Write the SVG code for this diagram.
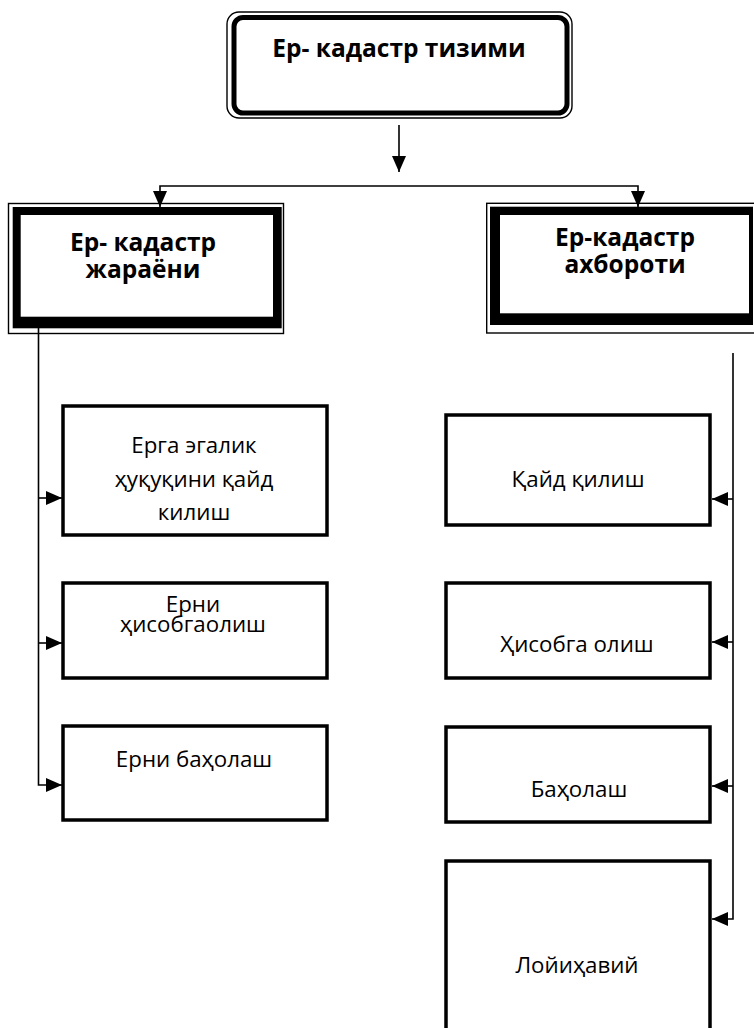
<svg xmlns="http://www.w3.org/2000/svg" width="754" height="1028" viewBox="0 0 754 1028">
<style>
.bold{font-family:"Open Sans","Noto Sans","DejaVu Sans",sans-serif;font-weight:700;font-size:24.5px;fill:#000;text-anchor:middle}
.reg{font-family:"Open Sans","Noto Sans","DejaVu Sans",sans-serif;font-weight:400;font-size:22.3px;fill:#000;text-anchor:middle}
.box{fill:#fff;stroke:#000;stroke-width:3.5}
.thin{fill:none;stroke:#000;stroke-width:1.4}
.conn{fill:none;stroke:#000;stroke-width:1.6}
</style>
<defs>
<marker id="arr" markerUnits="userSpaceOnUse" markerWidth="16" markerHeight="14" refX="16" refY="7" orient="auto">
<path d="M0,0 L16,7 L0,14 z" fill="#000"/>
</marker>
</defs>
<rect width="754" height="1028" fill="#fff"/>

<g id="connectors">
<path class="conn" d="M399,125 V172" marker-end="url(#arr)"/>
<path class="conn" d="M399,186 H160 V207" marker-end="url(#arr)"/>
<path class="conn" d="M399,186 H638 V207" marker-end="url(#arr)"/>
<path class="conn" d="M38.5,328 V785 H62" marker-end="url(#arr)"/>
<path class="conn" d="M38.5,498 H62" marker-end="url(#arr)"/>
<path class="conn" d="M38.5,643 H62" marker-end="url(#arr)"/>
<path class="conn" d="M733,353 V919 H712" marker-end="url(#arr)"/>
<path class="conn" d="M733,499 H712" marker-end="url(#arr)"/>
<path class="conn" d="M733,642 H712" marker-end="url(#arr)"/>
<path class="conn" d="M733,786 H712" marker-end="url(#arr)"/>
</g>

<g id="node-system">
<rect class="thin" x="227" y="12" width="345" height="106" rx="12"/>
<rect x="234" y="17.5" width="333" height="95.5" rx="9" fill="#fff" stroke="#000" stroke-width="5"/>
<text class="bold" x="399" y="57">Ер- кадастр тизими</text>
</g>

<g id="node-process">
<rect class="thin" x="8.5" y="203.5" width="275" height="130"/>
<rect x="12.7" y="207" width="269" height="121.3" fill="#000"/>
<rect x="20.7" y="215" width="252.3" height="101.7" fill="#fff"/>
<text class="bold" x="143" y="251"><tspan x="143">Ер- кадастр</tspan><tspan x="143" dy="27">жараёни</tspan></text>
</g>

<g id="node-info">
<rect class="thin" x="486.7" y="203.3" width="280" height="129.7"/>
<rect x="490" y="206.7" width="263" height="118.3" fill="#000"/>
<rect x="500" y="215" width="249" height="98.3" fill="#fff"/>
<text class="bold" x="625" y="246"><tspan x="625">Ер-кадастр</tspan><tspan x="625" dy="27">ахбороти</tspan></text>
</g>

<g id="node-l1">
<rect class="box" x="63" y="406" width="264" height="129"/>
<text class="reg" x="194" y="453"><tspan x="194">Ерга эгалик</tspan><tspan x="194" dy="34">ҳуқуқини қайд</tspan><tspan x="194" dy="33">килиш</tspan></text>
</g>

<g id="node-l2">
<rect class="box" x="63" y="583" width="264" height="95"/>
<text class="reg" x="193" y="612"><tspan x="193">Ерни</tspan><tspan x="193" dy="20">ҳисобгаолиш</tspan></text>
</g>

<g id="node-l3">
<rect class="box" x="63" y="726" width="264" height="94"/>
<text class="reg" x="194" y="767">Ерни баҳолаш</text>
</g>

<g id="node-r1">
<rect class="box" x="446" y="415" width="264" height="110"/>
<text class="reg" x="578" y="487">Қайд қилиш</text>
</g>

<g id="node-r2">
<rect class="box" x="446" y="583" width="264" height="95"/>
<text class="reg" x="577" y="652">Ҳисобга олиш</text>
</g>

<g id="node-r3">
<rect class="box" x="446" y="727" width="264" height="95"/>
<text class="reg" x="579" y="797">Баҳолаш</text>
</g>

<g id="node-r4">
<rect class="box" x="446" y="861" width="264" height="200"/>
<text class="reg" x="577" y="973">Лойиҳавий</text>
</g>
</svg>
